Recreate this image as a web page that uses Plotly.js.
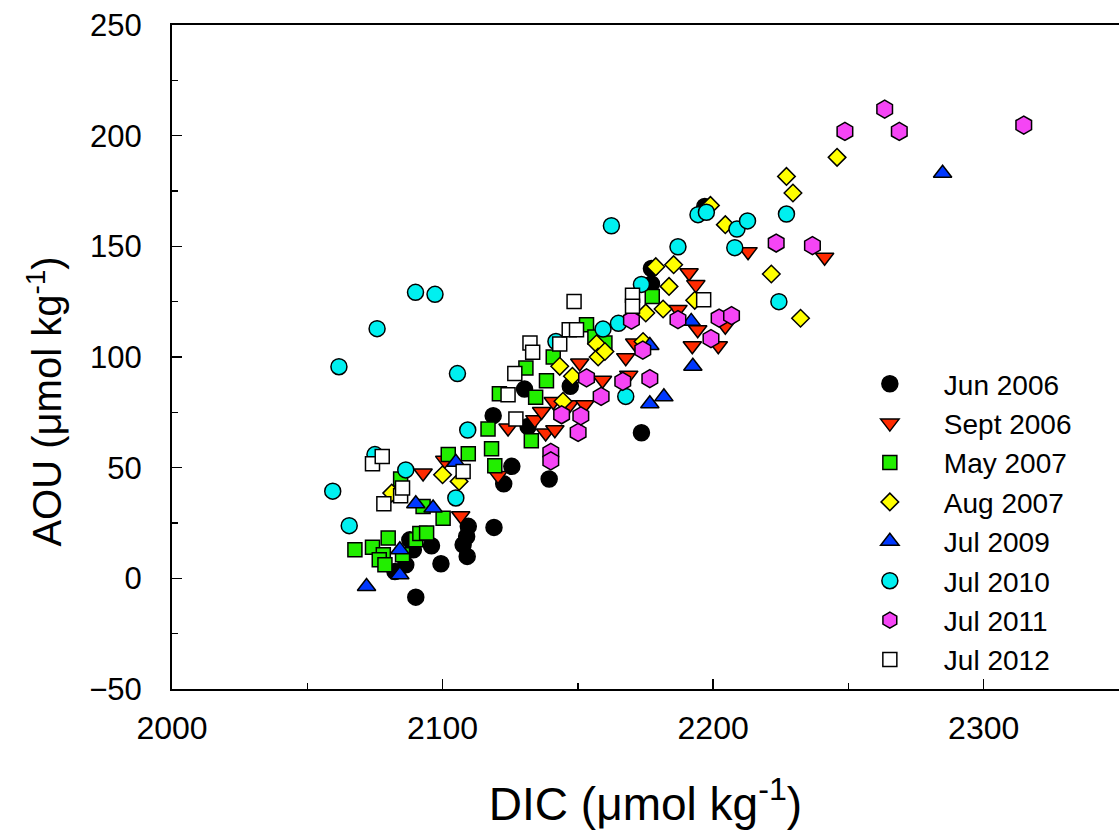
<!DOCTYPE html>
<html>
<head>
<meta charset="utf-8">
<script src="https://cdn.plot.ly/plotly-3.0.1.min.js"></script>
<style>html,body{margin:0;padding:0;background:#fff;}#chart{width:1119px;height:839px;}</style>
</head>
<body>
<div id="chart"></div>
<script>
// Series names (legend order)
const seriesNames = ["Jun 2006","Sept 2006","May 2007","Aug 2007","Jul 2009","Jul 2010","Jul 2011","Jul 2012"];

// DIC (x) and AOU (y) values per series
const jun2006_dic = [2090.1,2082.4,2086.4,2099.4,2109.1,2089.2,2087.9,2095.9,2107.6,2108.9,2109.5,2119.0,2122.6,2125.6,2139.4,2118.7,2131.6,2130.3,2147.2,2173.5,2177.2,2177.2,2196.9];
const jun2006_aou = [-8.5,3.1,6.1,6.6,9.9,12.9,17.4,14.7,15.2,18.9,23.5,23.0,42.7,50.6,44.9,73.5,68.6,85.5,86.8,65.8,133.0,140.0,168.0];

const sep2006_dic = [2092.8,2100.8,2106.7,2120.5,2124.2,2134.1,2136.6,2138.1,2141.5,2140.9,2147.0,2152.6,2150.7,2159.1,2167.7,2168.8,2171.0,2187.0,2191.1,2193.6,2194.3,2192.3,2201.9,2204.5,2212.9,2241.2];
const sep2006_aou = [47.6,53.3,28.3,46.5,67.9,71.7,75.4,65.7,67.1,79.9,78.4,78.4,97.3,89.5,99.7,91.8,106.3,121.5,138.1,132.7,112.3,105.1,105.1,113.9,147.6,145.1];

const may2007_dic = [2067.6,2074.1,2079.9,2078.1,2076.6,2078.7,2085.2,2090.1,2091.6,2094.1,2092.8,2084.5,2100.2,2102.1,2109.5,2118.1,2119.3,2116.8,2132.8,2121.0,2134.4,2130.8,2138.4,2140.9,2153.2,2156.3,2160.0,2177.5];
const may2007_aou = [12.9,14.1,18.2,10.7,8.4,6.1,10.7,17.4,20.2,20.5,32.5,44.9,27.2,55.9,56.3,58.5,50.9,67.5,62.2,83.4,81.8,95.0,89.3,100.0,114.6,109.0,106.3,127.3];

const aug2007_dic = [2081.2,2100.0,2106.1,2143.3,2144.5,2148.0,2156.9,2157.5,2160.0,2174.1,2175.1,2181.5,2183.7,2178.8,2185.4,2193.2,2199.0,2204.5,2221.5,2227.1,2229.5,2232.3,2245.8];
const aug2007_aou = [38.5,46.8,43.8,95.8,80.0,91.3,106.0,100.0,102.5,107.0,119.9,121.7,131.9,140.8,141.7,125.6,168.5,159.8,137.5,181.6,174.1,117.5,190.2];

const jul2009_dic = [2071.9,2084.2,2084.2,2090.1,2096.5,2104.9,2176.6,2176.6,2181.8,2191.9,2192.5,2284.8];
const jul2009_aou = [-3.7,1.6,12.9,33.7,31.8,52.4,105.2,78.9,82.0,116.1,95.8,183.0];

const jul2010_dic = [2059.4,2061.7,2065.5,2075.0,2075.8,2086.4,2090.0,2097.2,2104.9,2105.5,2109.3,2141.9,2159.3,2165.0,2167.7,2173.5,2187.0,2162.4,2194.4,2197.5,2208.0,2208.8,2212.7,2224.3,2227.1];
const jul2010_aou = [39.4,95.6,23.8,55.9,112.8,49.0,129.2,128.3,36.3,92.5,67.0,107.0,112.6,115.2,82.2,132.8,149.8,159.3,164.3,165.4,149.4,157.8,161.5,125.0,164.6];

const jul2011_dic = [2140.0,2140.0,2144.0,2150.1,2151.1,2153.2,2158.6,2166.6,2174.0,2176.6,2169.8,2187.0,2199.2,2202.2,2206.8,2223.3,2236.7,2248.7,2263.4,2268.8,2314.8];
const jul2011_aou = [56.9,53.1,73.9,65.9,73.4,90.6,82.2,89.0,103.1,90.2,116.7,116.9,108.3,117.6,118.7,151.5,150.3,201.9,212.0,201.9,204.8];

const jul2012_dic = [2074.1,2077.7,2078.3,2084.5,2085.2,2107.6,2124.2,2126.7,2127.1,2132.3,2133.3,2143.3,2146.8,2149.5,2148.6,2170.2,2170.2,2196.5];
const jul2012_aou = [51.8,55.1,33.7,37.3,40.8,48.3,83.0,92.5,72.0,106.3,102.1,105.9,112.3,112.3,125.1,127.9,122.9,125.9];

const xTickVals = [2000,2100,2200,2300];
const yTickVals = [-50,0,50,100,150,200,250];
const xTitle = "DIC (\u03bcmol kg<sup>-1</sup>)";
const yTitle = "AOU (\u03bcmol kg<sup>-1</sup>)";

const xs = [jun2006_dic,sep2006_dic,may2007_dic,aug2007_dic,jul2009_dic,jul2010_dic,jul2011_dic,jul2012_dic];
const ys = [jun2006_aou,sep2006_aou,may2007_aou,aug2007_aou,jul2009_aou,jul2010_aou,jul2011_aou,jul2012_aou];
const symbols = ["circle","triangle-down","square","diamond","triangle-up","circle","hexagon","square"];
const colors = ["#000000","#ff2a00","#22ee00","#ffff00","#0038ff","#00f0f0","#f545f5","#ffffff"];
const sizes = [16,16,14,13.5,16,16,18,14];

const traces = seriesNames.map((n,i)=>({
  type:"scatter", mode:"markers", name:n, x:xs[i], y:ys[i],
  marker:{symbol:symbols[i], color:colors[i], size:sizes[i], line:{color:"#000000", width:1.5}}
}));

const font = "Liberation Sans, Arial, sans-serif";
const layout = {
  width:1119, height:839,
  margin:{l:172, r:0, t:25, b:150, pad:0},
  paper_bgcolor:"#ffffff", plot_bgcolor:"#ffffff",
  showlegend:true,
  font:{family:font, color:"#000000"},
  xaxis:{
    range:[2000,2350], tickvals:xTickVals, ticks:"inside", ticklen:10, tickwidth:1.5, tickcolor:"#000",
    minor:{dtick:50, tick0:2000, ticks:"inside", ticklen:6, tickwidth:1.5, tickcolor:"#000"},
    showline:true, linewidth:2, linecolor:"#000", mirror:true, showgrid:false, zeroline:false,
    tickfont:{size:32, family:font}, ticklabelstandoff:10,
    title:{text:xTitle, font:{size:46, family:font}, standoff:42}
  },
  yaxis:{
    range:[-50,250], tickvals:yTickVals, ticks:"inside", ticklen:10, tickwidth:1.5, tickcolor:"#000",
    minor:{dtick:25, tick0:0, ticks:"inside", ticklen:6, tickwidth:1.5, tickcolor:"#000"},
    showline:true, linewidth:2, linecolor:"#000", mirror:false, showgrid:false, zeroline:false,
    tickfont:{size:31, family:font}, ticklabelstandoff:22
  },
  annotations:[{
    text:yTitle, xref:"paper", yref:"paper", x:-0.134, y:0.433, xanchor:"center", yanchor:"middle",
    textangle:-90, showarrow:false, font:{size:40, family:font}
  }],
  legend:{x:0.701, xanchor:"left", y:0.497, yanchor:"top", bgcolor:"rgba(0,0,0,0)", borderwidth:0,
    font:{size:28, family:font}, itemwidth:98, tracegroupgap:0}
};

Plotly.newPlot("chart", traces, layout, {displayModeBar:false, staticPlot:true});
</script>
</body>
</html>
